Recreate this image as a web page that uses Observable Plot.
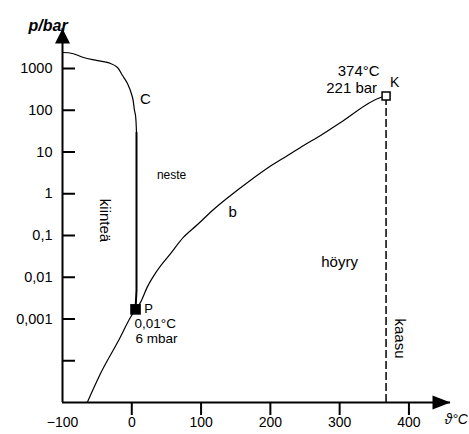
<!DOCTYPE html>
<html><head><meta charset="utf-8">
<script src="https://cdn.jsdelivr.net/npm/d3@7"></script>
<script src="https://cdn.jsdelivr.net/npm/@observablehq/plot@0.6"></script>
<style>body{margin:0;background:#fff}</style>
</head><body><div id="chart"></div>
<script>
// ---- data ----
const xTicks = [-100, 0, 100, 200, 300, 400];
const yTicks = [1000, 100, 10, 1, 0.1, 0.01, 0.001, 0.0001];
const yTickLabels = ["1000", "100", "10", "1", "0,1", "0,01", "0,001", ""];
const xDomain = [-100, 460];
const yDomain = [1e-5, 9080];

// melting curve (C)
const meltT = [-100, -85.6, -69.7, -49.5, -30.7, -20.6, -13.4, -6.2, 1.1, 3.9, 5.4, 6.8, 6.8, 5.4];
const meltP = [2415, 2290, 1830, 1550, 1320, 1060, 680, 437, 202, 99, 75, 29, 0.0048, 0.0017];
// sublimation + vaporisation curve (b)
const vapT = [-64.3, -45.1, -19.1, -1.8, 5.4, 12.6, 22.3, 36.7, 56.0, 74.7, 94.9, 118.0, 142.6, 167.1, 200.3, 224.9, 248.0, 272.5, 301.4, 359.1, 367];
const vapP = [1e-5, 4.95e-5, 3.05e-4, 0.0011, 0.0017, 0.0025, 0.0058, 0.0145, 0.037, 0.091, 0.183, 0.42, 0.908, 1.86, 4.6, 8.2, 14.3, 24.8, 51, 202, 219];
// triple point P and critical point K
const tripleT = [5.4], tripleP = [0.0017];
const critT = [367], critP = [219];

// annotations
const labelText = ["neste", "höyry", "b", "C", "kiinteä", "kaasu", "P", "0,01°C", "6 mbar", "374°C", "221 bar", "K"];
const labelT = [57.4, 299.9, 145.5, 19.8, -39.4, 386.6, 24.2, 33.9, 35.7, 327.4, 317.3, 379.3];
const labelP = [2.73, 0.0225, 0.356, 181, 0.229, 3.41e-4, 0.00178, 7.6e-4, 3.3e-4, 847, 332, 463];
const yTitle = "p/bar";
const xTitle = "ϑ°C";

// ---- tables ----
const melt = meltT.map((t, i) => ({t, p: meltP[i]}));
const vap = vapT.map((t, i) => ({t, p: vapP[i]}));
const triple = tripleT.map((t, i) => ({t, p: tripleP[i]}));
const crit = critT.map((t, i) => ({t, p: critP[i]}));
const labels = labelText.map((text, i) => ({text, t: labelT[i], p: labelP[i]}));
const tickLabelMap = new Map(yTicks.map((d, i) => [d, yTickLabels[i]]));

// ---- styling ----
const W = 469, H = 434, mL = 62, mR = 19, mT = 28, mB = 32;
const font = "'Liberation Sans', Arial, sans-serif";
const tickLenX = 13 * (xDomain[1] - xDomain[0]) / (W - mL - mR);
const sizeOf = {"neste": 12, "höyry": 15, "b": 15, "C": 15, "kiinteä": 15, "kaasu": 15, "P": 13, "K": 14, "0,01°C": 13.5, "6 mbar": 13.5};
const rotOf = {"kiinteä": 90, "kaasu": 90};
const arrowUp = {draw(c) { c.moveTo(0, 0); c.lineTo(7.5, 15); c.lineTo(-7.5, 15); c.closePath(); }};
const arrowRight = {draw(c) { c.moveTo(0, 0); c.lineTo(-18, -7); c.lineTo(-18, 7); c.closePath(); }};

const labelMarks = labels.map(d => Plot.text([d], {
  x: "t", y: "p", text: "text",
  fontSize: sizeOf[d.text] ?? 15,
  rotate: rotOf[d.text] ?? 0,
  fill: "black"
}));

const chart = Plot.plot({
  width: W, height: H,
  marginTop: mT, marginBottom: mB, marginLeft: mL, marginRight: mR,
  style: {fontFamily: font, fontSize: "14px", color: "#000", background: "#fff", overflow: "visible"},
  x: {type: "linear", domain: xDomain, label: null},
  y: {type: "log", domain: yDomain, label: null},
  marks: [
    // axes lines
    Plot.ruleX([xDomain[0]], {y1: yDomain[0], y2: yDomain[1], strokeWidth: 2}),
    Plot.ruleY([yDomain[0]], {x1: xDomain[0], x2: xDomain[1], strokeWidth: 2}),
    Plot.dot([0], {x: () => xDomain[0], y: () => yDomain[1], symbol: arrowUp, fill: "black", stroke: null}),
    Plot.dot([0], {x: () => xDomain[1], y: () => yDomain[0], symbol: arrowRight, fill: "black", stroke: null}),
    // y ticks pointing inward
    Plot.ruleY(yTicks, {x1: xDomain[0], x2: xDomain[0] + tickLenX, strokeWidth: 2}),
    Plot.axisY(yTicks, {tickSize: 0, tickPadding: 10, fontSize: 14.5, tickFormat: d => tickLabelMap.get(d), label: null}),
    // x ticks pointing down
    Plot.axisX(xTicks.filter(d => d > xDomain[0]), {tickSize: 13, strokeWidth: 2, tickFormat: () => "", label: null}),
    Plot.axisX(xTicks, {tickSize: 0, tickPadding: 15, fontSize: 14, label: null}),
    // curves
    Plot.line(melt.slice(0, 12), {x: "t", y: "p", strokeWidth: 1.2, curve: "catmull-rom"}),
    Plot.line(melt.slice(11), {x: "t", y: "p", strokeWidth: 2}),
    Plot.line(vap, {x: "t", y: "p", strokeWidth: 1.2, curve: "monotone-x"}),
    Plot.ruleX(crit, {x: "t", y1: yDomain[0], y2: "p", strokeWidth: 1.5, strokeDasharray: "8,3"}),
    Plot.dot(triple, {x: "t", y: "p", symbol: "square", r: 6, fill: "black", stroke: null}),
    Plot.dot(crit, {x: "t", y: "p", symbol: "square", r: 4.5, fill: "white", stroke: "black", strokeWidth: 1.5}),
    ...labelMarks,
    // axis titles
    Plot.text([yTitle], {frameAnchor: "top-left", dx: -34, dy: -9, fontSize: 16, fontStyle: "italic", fontWeight: "bold", fill: "black"}),
    Plot.text([xTitle], {frameAnchor: "bottom-right", dx: -6, dy: 21, textAnchor: "start", fontSize: 14, fontStyle: "italic", fill: "black"})
  ]
});
document.getElementById("chart").appendChild(chart);
</script>
</body></html>
